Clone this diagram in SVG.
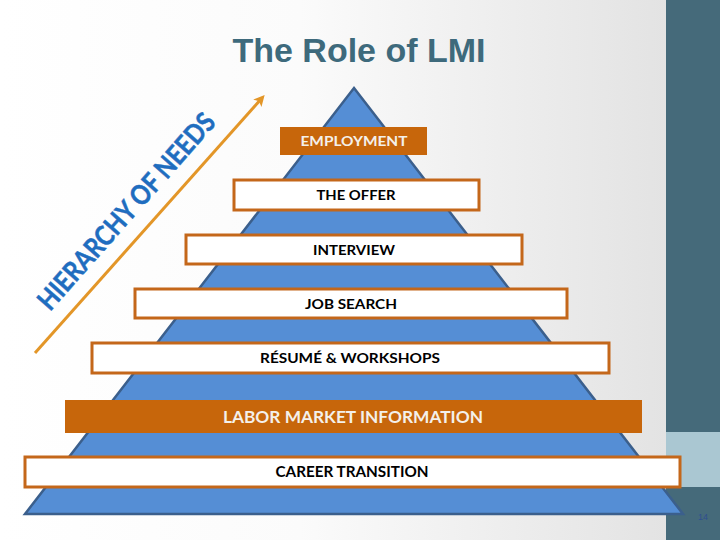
<svg xmlns="http://www.w3.org/2000/svg" width="720" height="540" viewBox="0 0 720 540">
<defs>
<linearGradient id="bg" x1="0" y1="0" x2="1" y2="0">
<stop offset="0" stop-color="#ffffff"/>
<stop offset="0.45" stop-color="#fbfbfb"/>
<stop offset="1" stop-color="#e3e3e3"/>
</linearGradient>
<marker id="ah" markerWidth="11" markerHeight="11" refX="7" refY="5.5" orient="auto" markerUnits="userSpaceOnUse" viewBox="0 0 11 11">
<path d="M0,0 L11,5.5 L0,11 L2.5,5.5 Z" fill="#e39628"/>
</marker>
<style>
.box{fill:#ffffff;stroke:#c4671a;stroke-width:3}
.obox{fill:#c7660b}
.lbl{font-family:Lato,"Open Sans","Liberation Sans",sans-serif;font-weight:bold;fill:#000000;text-anchor:middle}
.wl{fill:#f4f0ea}
</style>
</defs>
<rect x="0" y="0" width="666" height="540" fill="url(#bg)"/>
<g id="side-panel">
<rect x="666" y="0" width="54" height="540" fill="#456a7a"/>
<rect x="666" y="432" width="54" height="55" fill="#aac7d2"/>
<text x="703" y="520" font-family="Liberation Sans, Arial, sans-serif" font-size="9" fill="#2f4f8f" text-anchor="middle">14</text>
</g>
<g id="title">
<text x="359" y="62" font-family="Liberation Sans, Arial, sans-serif" font-weight="bold" font-size="34" fill="#3e6a7c" text-anchor="middle">The Role of LMI</text>
</g>
<g id="pyramid">
<polygon points="354,88 683,514 25,514" fill="#558ed5" stroke="#3b5f8c" stroke-width="2.5" stroke-linejoin="miter"/>
</g>
<g id="connectors">
<line x1="35" y1="353" x2="262" y2="98" stroke="#e39628" stroke-width="3" marker-end="url(#ah)"/>
</g>
<g id="hierarchy-label">
<text transform="translate(50,312) rotate(-48.5)" x="0" y="0" font-family="Lato,'Open Sans','Liberation Sans',sans-serif" font-weight="bold" font-size="27.5" fill="#1f6dbf" stroke="#1f6dbf" stroke-width="0.5" textLength="252" lengthAdjust="spacingAndGlyphs">HIERARCHY OF NEEDS</text>
</g>
<g id="employment">
<rect class="obox" x="280" y="127" width="147" height="28"/>
<text class="lbl wl" x="354" y="146" font-size="14" textLength="107" lengthAdjust="spacingAndGlyphs">EMPLOYMENT</text>
</g>
<g id="the-offer">
<rect class="box" x="234" y="180" width="245" height="30"/>
<text class="lbl" x="356" y="200" font-size="14" textLength="79" lengthAdjust="spacingAndGlyphs">THE OFFER</text>
</g>
<g id="interview">
<rect class="box" x="186" y="235" width="336" height="29"/>
<text class="lbl" x="354" y="255" font-size="14" textLength="82" lengthAdjust="spacingAndGlyphs">INTERVIEW</text>
</g>
<g id="job-search">
<rect class="box" x="135" y="289" width="432" height="29"/>
<text class="lbl" x="351" y="309" font-size="14" textLength="92" lengthAdjust="spacingAndGlyphs">JOB SEARCH</text>
</g>
<g id="resume-workshops">
<rect class="box" x="92" y="343" width="517" height="30"/>
<text class="lbl" x="350" y="363" font-size="14" textLength="180" lengthAdjust="spacingAndGlyphs">RÉSUMÉ &amp; WORKSHOPS</text>
</g>
<g id="labor-market-information">
<rect class="obox" x="65" y="400" width="577" height="33"/>
<text class="lbl wl" x="353" y="423" font-size="17" textLength="260" lengthAdjust="spacingAndGlyphs">LABOR MARKET INFORMATION</text>
</g>
<g id="career-transition">
<rect class="box" x="25" y="457" width="655" height="30"/>
<text class="lbl" x="352" y="477" font-size="15" textLength="153" lengthAdjust="spacingAndGlyphs">CAREER TRANSITION</text>
</g>
</svg>
